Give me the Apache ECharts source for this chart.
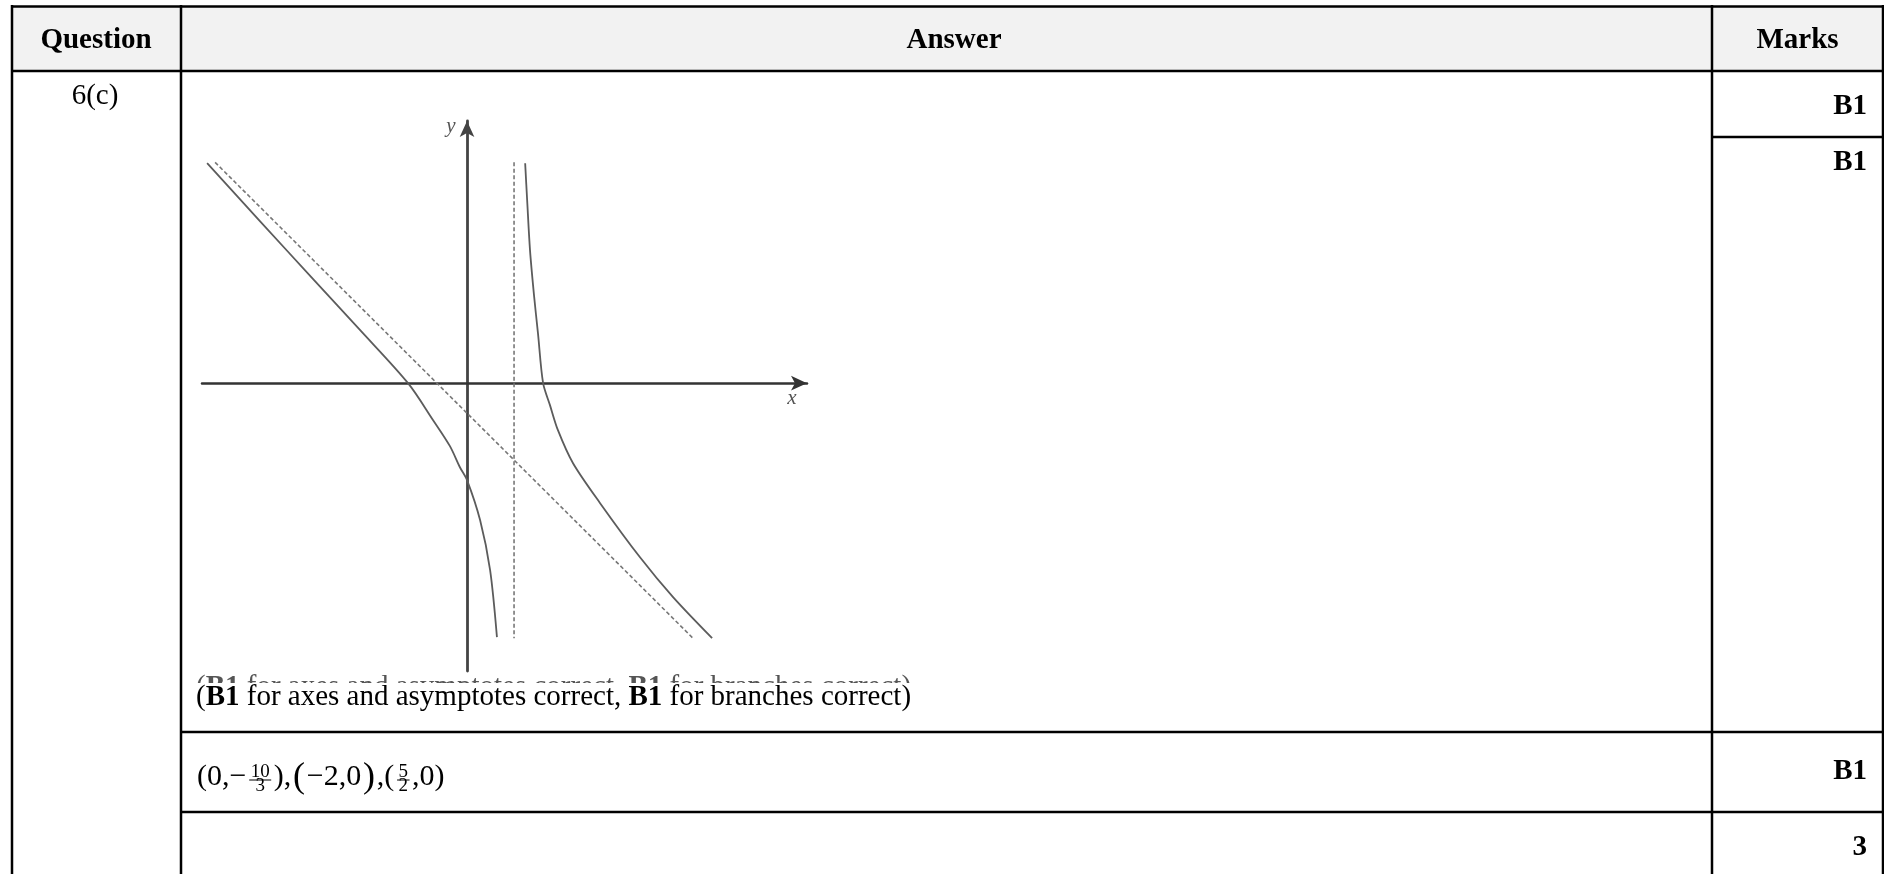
<!DOCTYPE html>
<html><head><meta charset="utf-8">
<script src="https://cdn.jsdelivr.net/npm/echarts@6/dist/echarts.min.js"></script>
<style>html,body{margin:0;padding:0;background:#fff}#c{width:1884px;height:874px}</style>
</head><body><div id="c"></div>
<script>
// ---- content / data ----
const headers = ['Question', 'Answer', 'Marks'];
const questionId = '6(c)';
const marks = ['B1', 'B1', 'B1', '3'];
const noteParts = ['(', 'B1', ' for axes and asymptotes correct, ', 'B1', ' for branches correct)'];
const interceptFormula = [
  {t: '(0,\u2212'}, {num: '10', den: '3'}, {t: '),'}, {t: '(', big: true}, {t: '\u22122,0'},
  {t: ')', big: true}, {t: ',('}, {num: '5', den: '2'}, {t: ',0)'}
];
// sketch curves, in sketch units (origin at the axes crossing)
const leftBranch = [[-9.12, 7.72], [-7.26, 5.68], [-5.40, 3.65], [-3.75, 1.86], [-2.07, 0], [-1.19, -1.30],
  [-0.60, -2.21], [-0.25, -2.95], [0, -3.40], [0.46, -4.81], [0.81, -6.56], [1.05, -8.91]];
const rightBranch = [[2.04, 7.72], [2.11, 6.42], [2.21, 4.67], [2.35, 3.09], [2.49, 1.75], [2.67, 0],
  [2.91, -0.77], [3.19, -1.65], [3.72, -2.81], [4.67, -4.21], [6.07, -6.11], [7.23, -7.51], [8.60, -8.95]];
const obliqueAsymptote = [[-8.84, 7.75], [7.93, -8.95]];
const verticalAsymptote = [[1.65, 7.75], [1.65, -8.95]];
const axisNames = ['x', 'y'];
const xRange = [-9.3, 11.93];
const yRange = [-10.1, 9.2];

// ---- rendering ----
const SERIF = '"Liberation Serif","Times New Roman",serif';
const chart = echarts.init(document.getElementById('c'), null, {renderer: 'canvas'});
const F = 29;
const mid = (baseline, size) => baseline - 0.3375 * size;

function txt(x, y, text, size, weight, align, extra) {
  return Object.assign({
    type: 'text', x: x, y: y, z: 10,
    style: {text: text, font: (weight || 'normal') + ' ' + size + 'px ' + SERIF, fill: '#000',
      align: align || 'left', verticalAlign: 'middle'}
  }, extra || {});
}
function hline(y, x1, x2) {
  return {type: 'line', z: 20, shape: {x1: x1, y1: y, x2: x2, y2: y}, style: {stroke: '#000', lineWidth: 2.5}};
}
function vline(x, y1, y2) {
  return {type: 'line', z: 20, shape: {x1: x, y1: y1, x2: x, y2: y2}, style: {stroke: '#000', lineWidth: 2.5}};
}

const g = [];
// header background
g.push({type: 'rect', z: 1, shape: {x: 12, y: 6, width: 1871, height: 65}, style: {fill: '#f2f2f2'}});
// grid lines
g.push(hline(6.5, 11, 1884));
g.push(hline(71, 11, 1884));
g.push(hline(137, 1712, 1884));
g.push(hline(732, 181, 1884));
g.push(hline(812, 181, 1884));
g.push(vline(12, 5, 874));
g.push(vline(181, 5, 874));
g.push(vline(1712, 5, 874));
g.push(vline(1883, 5, 874));
// header texts
g.push(txt(96, mid(50, F), headers[0], F, 'bold', 'center'));
g.push(txt(954, mid(50, F), headers[1], F, 'bold', 'center'));
g.push(txt(1797.5, mid(50, F), headers[2], F, 'bold', 'center'));
// question id
g.push(txt(95, mid(106, F), questionId, F, 'normal', 'center'));
// marks
g.push(txt(1867, mid(116, F), marks[0], F, 'bold', 'right'));
g.push(txt(1867, mid(172, F), marks[1], F, 'bold', 'right'));
g.push(txt(1867, mid(781, F), marks[2], F, 'bold', 'right'));
g.push(txt(1867, mid(857, F), marks[3], F, 'bold', 'right'));

// note (rich text) + cropped copy above it (only its top shows)
const noteText = noteParts[0] + '{b|' + noteParts[1] + '}' + noteParts[2] + '{b|' + noteParts[3] + '}' + noteParts[4];
function noteEl(baseline, fill) {
  return {type: 'text', x: 196, y: mid(baseline, F), z: 6,
    style: {text: noteText, font: 'normal ' + F + 'px ' + SERIF, fill: fill, align: 'left', verticalAlign: 'middle',
      rich: {b: {font: 'bold ' + F + 'px ' + SERIF, fill: fill}}}};
}
g.push(noteEl(697, '#555'));
g.push({type: 'rect', z: 6, shape: {x: 186, y: 683, width: 900, height: 30}, style: {fill: '#fff'}});
g.push(noteEl(707, '#000'));

// intercept formula
const ctx = document.createElement('canvas').getContext('2d');
function w(s, font) { ctx.font = font; return ctx.measureText(s).width; }
const MF = 30, BIG = 36, SF = 19, base = 787;
let cx = 197;
interceptFormula.forEach(function (p) {
  if (p.num !== undefined) {
    const fnt = 'normal ' + SF + 'px ' + SERIF;
    const fw = Math.max(w(p.num, fnt), w(p.den, fnt)) + 3;
    const c = cx + fw / 2 + 1;
    g.push(txt(c, mid(base - 9, SF), p.num, SF, 'normal', 'center'));
    g.push(txt(c, mid(base + 5, SF), p.den, SF, 'normal', 'center'));
    g.push({type: 'line', z: 10, shape: {x1: cx + 1, y1: base - 7, x2: cx + fw + 1, y2: base - 7}, style: {stroke: '#000', lineWidth: 1}});
    cx += fw + 3.5;
  } else {
    const size = p.big ? BIG : MF;
    const fnt = 'normal ' + size + 'px ' + SERIF;
    const bl = p.big ? base + 3 : base;
    g.push(txt(cx, mid(bl, size), p.t, size, 'normal', 'left'));
    cx += w(p.t, fnt) + 1.8;
  }
});

const option = {
  animation: false,
  backgroundColor: '#fff',
  grid: {left: 202, top: 121, width: 605, height: 550, containLabel: false},
  xAxis: {type: 'value', min: xRange[0], max: xRange[1],
    axisLine: {show: true, onZero: true, symbol: ['none', 'arrow'], symbolSize: [11, 16],
      lineStyle: {color: '#333', width: 2.5}},
    axisTick: {show: false}, axisLabel: {show: false}, splitLine: {show: false}},
  yAxis: {type: 'value', min: yRange[0], max: yRange[1],
    axisLine: {show: true, onZero: true, symbol: ['none', 'arrow'], symbolSize: [11, 16],
      lineStyle: {color: '#444', width: 2.8}},
    axisTick: {show: false}, axisLabel: {show: false}, splitLine: {show: false}},
  series: [
    {type: 'line', data: leftBranch, smooth: 0.3, symbol: 'none', silent: true,
      lineStyle: {color: '#5c5c5c', width: 1.8}},
    {type: 'line', data: rightBranch, smooth: 0.3, symbol: 'none', silent: true,
      lineStyle: {color: '#5c5c5c', width: 1.8}},
    {type: 'line', data: obliqueAsymptote, symbol: 'none', silent: true,
      lineStyle: {color: '#777', width: 1.6, type: [4, 2.5]}},
    {type: 'line', data: verticalAsymptote, symbol: 'none', silent: true,
      lineStyle: {color: '#777', width: 1.6, type: [4, 2.5]}}
  ],
  graphic: {elements: g}
};
chart.setOption(option);

// axis names placed relative to the axis ends
const xEnd = chart.convertToPixel({gridIndex: 0}, [xRange[1], 0]);
const yEnd = chart.convertToPixel({gridIndex: 0}, [0, yRange[1]]);
g.push({type: 'text', x: xEnd[0] - 15, y: xEnd[1] + 15, z: 10,
  style: {text: axisNames[0], font: 'italic 21px ' + SERIF, fill: '#555', align: 'center', verticalAlign: 'middle'}});
g.push({type: 'text', x: yEnd[0] - 16, y: yEnd[1] + 5, z: 10,
  style: {text: axisNames[1], font: 'italic 21px ' + SERIF, fill: '#555', align: 'center', verticalAlign: 'middle'}});
chart.setOption({graphic: {elements: g}}, {replaceMerge: ['graphic']});
</script></body></html>
